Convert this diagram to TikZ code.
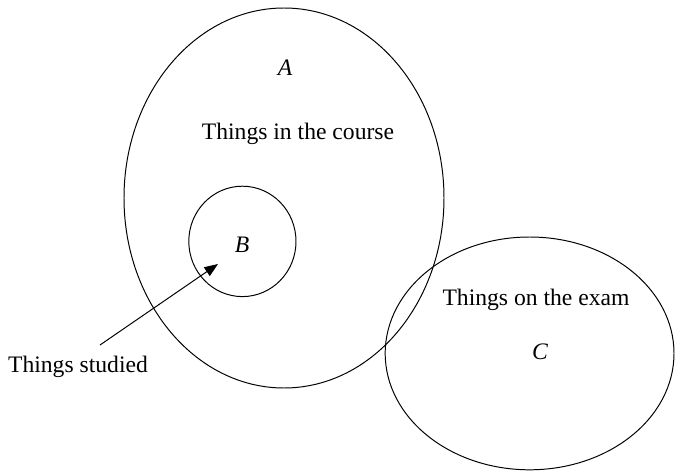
\documentclass[tikz,border=0pt]{standalone}
\usepackage{fontspec}
\setmainfont{Liberation Serif}
\usetikzlibrary{arrows.meta, positioning, shapes.geometric}
\tikzset{
  every picture/.style={font=\fontsize{16.8}{20}\selectfont, line width=0.7pt},
  set/.style={draw, ellipse, inner sep=0pt},
  lbl/.style={font=\fontsize{16.8}{20}\selectfont\itshape},
  pointer/.style={-{Triangle[length=3.4mm, width=2.6mm]}, line width=0.7pt},
}
\begin{document}
\begin{tikzpicture}
  \useasboundingbox (0,0) rectangle (16.875,11.825);
  % sets
  \node[set, minimum width=8cm, minimum height=9.5cm] (course) at (7.1,6.875) {};
  \node[set, minimum width=2.68cm, minimum height=2.76cm] (studied) at (6.06,5.79) {};
  \node[set, minimum width=7.22cm, minimum height=5.82cm] (exam) at (13.24,2.99) {};
  % labels
  \node[lbl] (la) at (7.125,10.125) {A};
  \node (tcourse) at (7.45,8.475) {Things in the course};
  \node[lbl] (lb) at (6.05,5.7) {B};
  \node (texam) at (13.4,4.325) {Things on the exam};
  \node[lbl] (lc) at (13.5,3.025) {C};
  \node (tstudied) at (1.95,2.65) {Things studied};
  % arrow
  \coordinate (tail) at (2.5,3.2);
  \coordinate (tip) at (5.45,5.225);
  \draw[pointer] (tail) -- (tip);
\end{tikzpicture}
\end{document}
